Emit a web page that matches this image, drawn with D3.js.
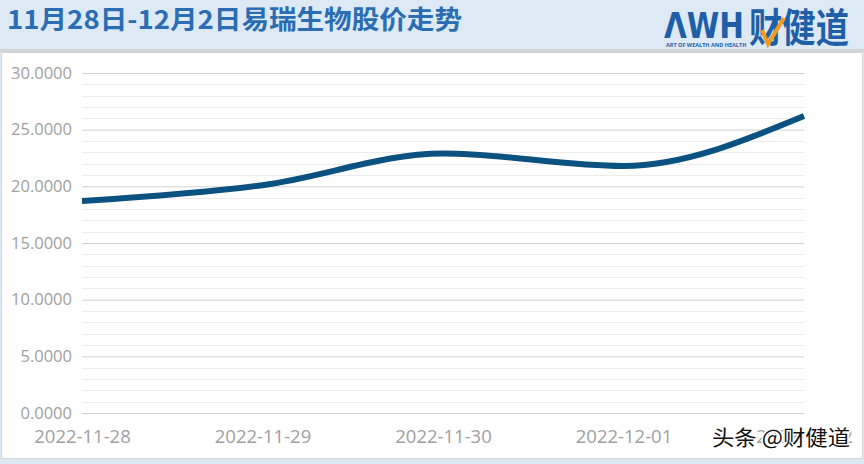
<!DOCTYPE html>
<html>
<head>
<meta charset="utf-8">
<script src="https://cdn.jsdelivr.net/npm/d3@7/dist/d3.min.js"></script>
<style>
  body { margin: 0; background: #dce8f4; }
  svg { display: block; font-family: "Open Sans", "Noto Sans", sans-serif; }
</style>
</head>
<body>
<div id="chart"></div>
<script>
// chart data
var dates = ["2022-11-28", "2022-11-29", "2022-11-30", "2022-12-01", "2022-12-02"];
var prices = [18.7, 20.1, 22.9, 21.8, 26.2];
var yTicks = [0, 5, 10, 15, 20, 25, 30];

var W = 864, H = 464;
var margin = {top: 73, right: 60, bottom: 51, left: 82},
    width = W - margin.left - margin.right,
    height = H - margin.top - margin.bottom;

var svg = d3.select("#chart")
  .append("svg")
    .attr("width", W)
    .attr("height", H);

// header band
svg.append("rect").attr("x", 0).attr("y", 0).attr("width", W).attr("height", 50).attr("fill", "#dde9f5");
svg.append("text")
  .attr("x", 7).attr("y", 29)
  .attr("font-family", "'Noto Sans CJK SC', sans-serif")
  .attr("font-size", 26).attr("font-weight", "bold")
  .attr("textLength", 455).attr("lengthAdjust", "spacingAndGlyphs")
  .attr("fill", "#2a6db2")
  .text("11月28日-12月2日易瑞生物股价走势");

// logo
var logo = svg.append("g").attr("transform", "translate(664,0)");
logo.append("text")
  .attr("x", 0).attr("y", 38)
  .attr("font-family", "'DejaVu Sans', sans-serif")
  .attr("font-size", 36).attr("font-weight", "bold")
  .attr("textLength", 80).attr("lengthAdjust", "spacingAndGlyphs")
  .attr("fill", "#1f5fa8")
  .text("ΛWH");
logo.append("text")
  .attr("x", 85).attr("y", 42)
  .attr("font-family", "'Noto Sans CJK SC', sans-serif")
  .attr("font-size", 40).attr("font-weight", "bold")
  .attr("textLength", 100).attr("lengthAdjust", "spacingAndGlyphs")
  .attr("fill", "#1f5fa8")
  .text("财健道");
logo.append("path")
  .attr("d", "M98,30 L104,44 L120,18")
  .attr("fill", "none").attr("stroke", "#f39a1e").attr("stroke-width", 4);
logo.append("text")
  .attr("x", 2).attr("y", 47)
  .attr("font-size", 5.5).attr("font-weight", "bold")
  .attr("fill", "#1f5fa8")
  .text("ART OF WEALTH AND HEALTH");

// white panel
svg.append("rect")
  .attr("x", 1.5).attr("y", 52.5).attr("width", W - 3).attr("height", H - 58)
  .attr("fill", "#ffffff").attr("stroke", "#d4d4d4");
svg.append("rect").attr("x", 0).attr("y", 49).attr("width", W).attr("height", 3).attr("fill", "#d0d4d8");

var g = svg.append("g")
  .attr("transform", "translate(" + margin.left + "," + margin.top + ")");

var x = d3.scalePoint()
  .domain(dates)
  .range([0, width]);

var y = d3.scaleLinear()
  .domain([0, 30])
  .range([height, 0]);

// minor grid
g.append("g")
  .selectAll("line")
  .data(d3.range(0, 31, 1).filter(function(v) { return v % 5 != 0; }))
  .enter().append("line")
    .attr("x1", 0).attr("x2", width)
    .attr("y1", function(d) { return Math.round(y(d)) + 0.5; })
    .attr("y2", function(d) { return Math.round(y(d)) + 0.5; })
    .attr("stroke", "#ececec");

// y axis with major grid
var yAxis = g.append("g")
  .call(d3.axisLeft(y).tickValues(yTicks).tickSize(-width).tickPadding(10)
    .tickFormat(function(d) { return d3.format(".4f")(d); }));
yAxis.select(".domain").remove();
yAxis.selectAll(".tick line").attr("stroke", "#d0d0d0");
yAxis.selectAll(".tick text")
  .attr("font-family", "'Open Sans', sans-serif")
  .attr("fill", "#a0a0a0").attr("font-size", 16.5);

// x axis
var xAxis = g.append("g")
  .attr("transform", "translate(0," + height + ")")
  .call(d3.axisBottom(x).tickSize(0).tickPadding(17));
xAxis.select(".domain").remove();
xAxis.selectAll(".tick text")
  .attr("font-family", "'Open Sans', sans-serif")
  .attr("fill", "#a0a0a0").attr("font-size", 18.5);

// price line
var line = d3.line()
  .x(function(d, i) { return x(dates[i]); })
  .y(function(d) { return y(d); })
  .curve(d3.curveMonotoneX);

g.append("path")
  .datum(prices)
  .attr("fill", "none")
  .attr("stroke", "#0b5280")
  .attr("stroke-width", 6)
  .attr("d", line);

// watermark
svg.append("text")
  .attr("x", 712).attr("y", 445)
  .attr("font-family", "'Noto Sans CJK SC', sans-serif")
  .attr("font-size", 21)
  .attr("textLength", 138).attr("lengthAdjust", "spacingAndGlyphs")
  .attr("fill", "#111")
  .attr("stroke", "#fff").attr("stroke-width", 3).attr("paint-order", "stroke")
  .text("头条 @财健道");
</script>
</body>
</html>
